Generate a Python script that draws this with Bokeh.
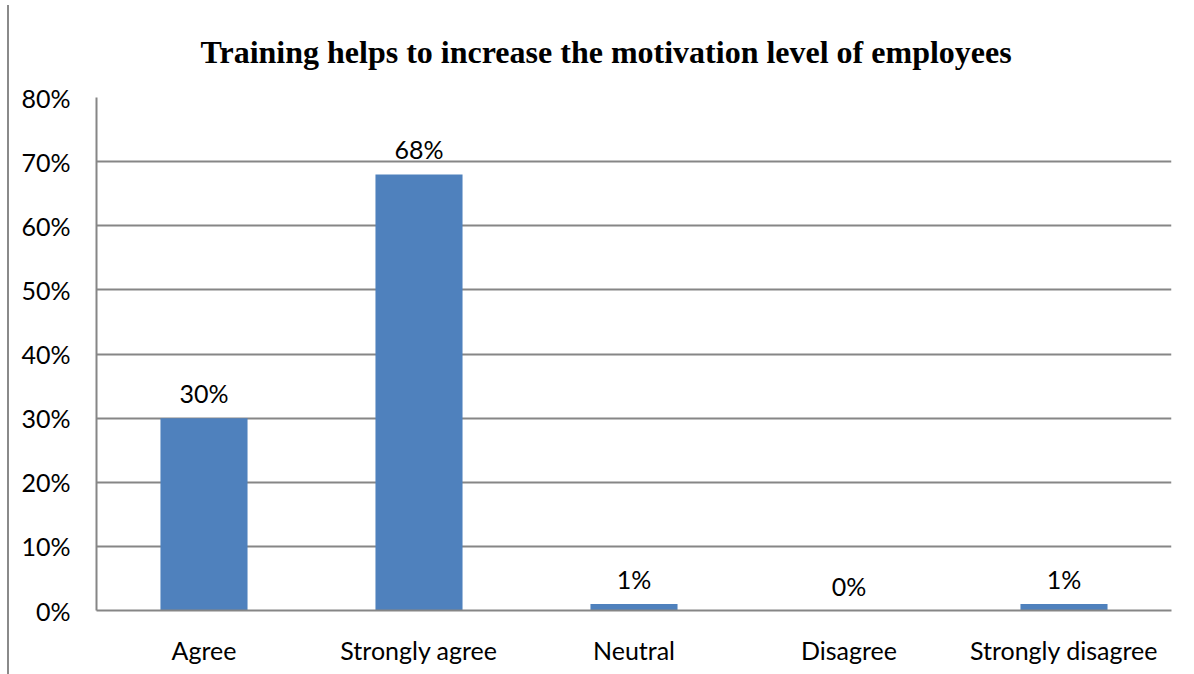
from bokeh.plotting import figure
from bokeh.models import ColumnDataSource, NumeralTickFormatter, FixedTicker, Range1d, Div, LabelSet
from bokeh.core.properties import value
from bokeh.layouts import row
from bokeh.embed import file_html
from bokeh.resources import INLINE

title_text = "Training helps to increase the motivation level of employees"
categories = ["Agree", "Strongly agree", "Neutral", "Disagree", "Strongly disagree"]
values = [0.30, 0.68, 0.01, 0.00, 0.01]
labels = ["30%", "68%", "1%", "0%", "1%"]
y_ticks = [0, 0.1, 0.2, 0.3, 0.4, 0.5, 0.6, 0.7, 0.8]

src = ColumnDataSource(dict(cat=categories, val=values, lab=labels))

p = figure(x_range=categories, y_range=Range1d(0, 0.8), width=1181, height=674,
           output_backend="svg", toolbar_location=None, title=title_text,
           min_border_left=82, min_border_right=24, min_border_bottom=64,
           min_border_top=97)
p.title.text_font = "Liberation Serif"
p.title.text_font_size = "32px"
p.title.text_font_style = "bold"
p.title.align = "left"
p.title.offset = 104
p.title.standoff = 55
p.title.text_color = "#000000"

p.vbar(x="cat", top="val", width=0.405, source=src, color="#4F81BD", line_color=None)
p.add_layout(LabelSet(x="cat", y="val", text="lab", source=src, text_align="center",
                      text_baseline="alphabetic", y_offset=15, text_font=value("Lato"),
                      text_font_size="25px", text_color="#000000"))

p.yaxis.ticker = FixedTicker(ticks=y_ticks)
p.yaxis.formatter = NumeralTickFormatter(format="0%")
for ax in (p.xaxis[0], p.yaxis[0]):
    ax.major_tick_line_color = None
    ax.minor_tick_line_color = None
    ax.axis_line_color = "#868686"
    ax.axis_line_width = 2
    ax.major_label_text_font = "Lato"
    ax.major_label_text_font_size = "25px"
    ax.major_label_text_color = "#000000"
p.yaxis.major_label_standoff = 20
p.xaxis.major_label_standoff = 18
p.xgrid.grid_line_color = None
p.ygrid.grid_line_color = "#868686"
p.ygrid.grid_line_width = 2
p.outline_line_color = None
p.x_range.range_padding = 0

edge = Div(width=4, height=669, styles={"border-right": "2px solid #8a8a8a", "margin-top": "5px"})
lay = row(edge, p, spacing=0)

open("out.html", "w").write(file_html(lay, INLINE))
